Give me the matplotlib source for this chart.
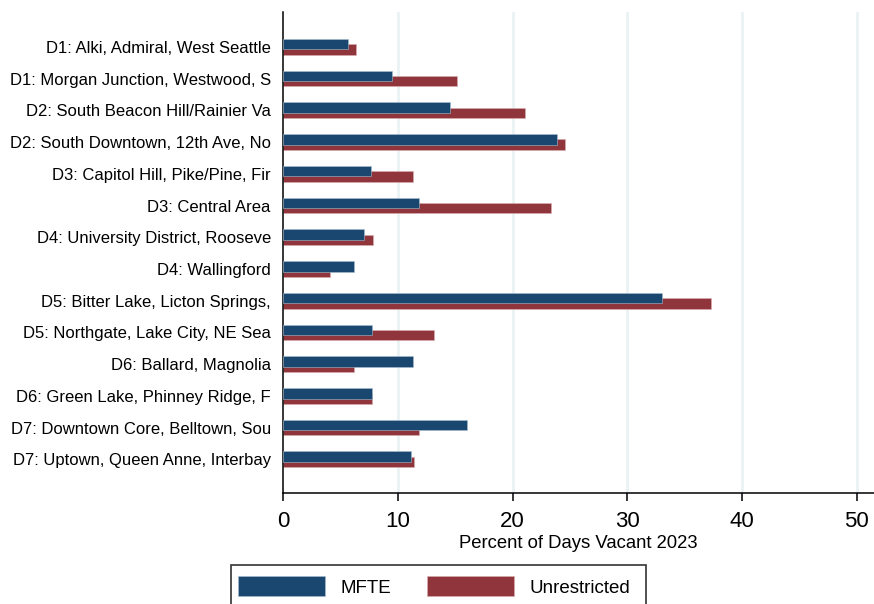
import matplotlib
matplotlib.use('Agg')
import matplotlib.pyplot as plt
import matplotlib.patches as mpatches
import numpy as np

# -------------------------------
# Data: percent of days vacant by neighborhood
# -------------------------------
neighborhoods = [
    'D1: Alki, Admiral, West Seattle',
    'D1: Morgan Junction, Westwood, S',
    'D2: South Beacon Hill/Rainier Va',
    'D2: South Downtown, 12th Ave, No',
    'D3: Capitol Hill, Pike/Pine, Fir',
    'D3: Central Area',
    'D4: University District, Rooseve',
    'D4: Wallingford',
    'D5: Bitter Lake, Licton Springs,',
    'D5: Northgate, Lake City, NE Sea',
    'D6: Ballard, Magnolia',
    'D6: Green Lake, Phinney Ridge, F',
    'D7: Downtown Core, Belltown, Sou',
    'D7: Uptown, Queen Anne, Interbay',
]
mfte = [5.6, 9.5, 14.5, 23.9, 7.6, 11.8, 7.0, 6.2, 33.0, 7.7, 11.3, 7.7, 16.0, 11.1]
unrestricted = [6.3, 15.1, 21.1, 24.6, 11.3, 23.3, 7.8, 4.1, 37.3, 13.1, 6.2, 7.7, 11.8, 11.4]
x_ticks = [0, 10, 20, 30, 40, 50]

NAVY = '#1a476f'
MAROON = '#90353b'
GRID = '#eaf2f3'

plt.rcParams['font.family'] = ['Liberation Sans', 'DejaVu Sans']

fig = plt.figure(figsize=(8.74, 6.04), dpi=100)
ax = fig.add_axes([0.3242, 0.1833, 0.6758, 0.7969])

pos = np.arange(len(neighborhoods))
bar_h = 0.33
shift = 0.082

# red bar sits slightly lower, blue bar overlaps it on top
ax.barh(pos + shift, unrestricted, height=bar_h, color=MAROON,
        edgecolor='#d9aeb1', linewidth=0.4, zorder=2)
ax.barh(pos - shift, mfte, height=bar_h, color=NAVY,
        edgecolor='#a9bfd0', linewidth=0.4, zorder=3)

ax.set_xlim(0, 51.5)
ax.set_ylim(len(neighborhoods) - 1 + 1.07, -1.10)

ax.set_yticks(pos)
ax.set_yticklabels(neighborhoods, fontsize=12)
ax.tick_params(axis='y', length=0, pad=9)

ax.set_xticks(x_ticks)
ax.set_xticklabels([str(t) for t in x_ticks], fontsize=16)
ax.tick_params(axis='x', direction='out', length=6, width=1.1, pad=6.5)

for t in x_ticks[1:]:
    ax.axvline(t, color=GRID, linewidth=2, zorder=1)

ax.set_xlabel('Percent of Days Vacant 2023', fontsize=13.3, labelpad=2.3)

for side in ['top', 'right']:
    ax.spines[side].set_visible(False)
for side in ['left', 'bottom']:
    ax.spines[side].set_linewidth(1.1)
    ax.spines[side].set_color('black')

# legend without its own frame; the box runs off the bottom edge
handles = [mpatches.Patch(facecolor=NAVY, edgecolor='#a9bfd0', linewidth=0.4, label='MFTE'),
           mpatches.Patch(facecolor=MAROON, edgecolor='#d9aeb1', linewidth=0.4, label='Unrestricted')]
leg = fig.legend(handles=handles, loc='upper left', bbox_to_anchor=(0.263, 0.0595),
                 ncol=2, fontsize=13.5, frameon=False,
                 handlelength=4.65, handleheight=1.25, handletextpad=0.8,
                 columnspacing=1.9, borderpad=0.45, borderaxespad=0)
box = mpatches.Rectangle((230.7 / 874, -0.05), (645.7 - 230.7) / 874, 0.05 + 1 - 564.5 / 604,
                         transform=fig.transFigure, fill=False,
                         edgecolor='#333333', linewidth=1.2)
fig.add_artist(box)

fig.savefig('out.png', dpi=100)
plt.close(fig)
